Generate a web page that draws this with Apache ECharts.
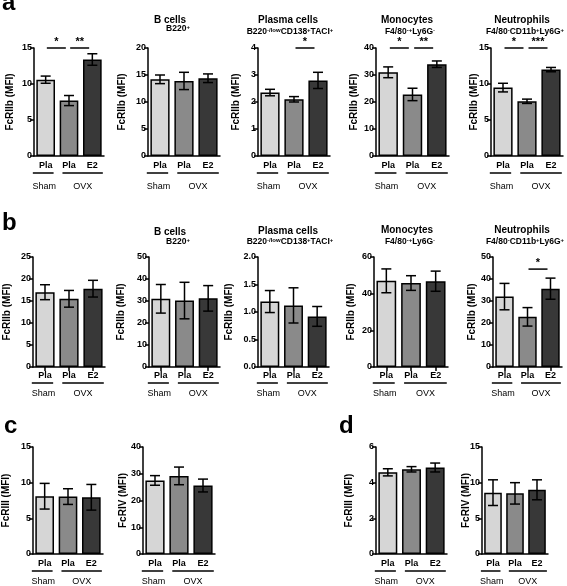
<!DOCTYPE html>
<html><head><meta charset="utf-8">
<script src="https://cdn.jsdelivr.net/npm/echarts@6/dist/echarts.min.js"></script>
<style>html,body{margin:0;padding:0;background:#fff}#c{width:567px;height:586px}</style>
</head><body><div id="c"></div>
<script>
// ---------- data ----------
const categories = ['Pla', 'Pla', 'E2'];
const groupLabels = ['Sham', 'OVX'];
const barFills = ['#d6d6d6', '#8a8a8a', '#383838'];

// row a
const aAllMean = [10.6, 7.7, 13.4],   aAllErr = [0.5, 0.7, 0.8];
const aBMean = [14.2, 13.9, 14.4],    aBErr = [0.8, 1.6, 0.8];
const aPlMean = [2.35, 2.1, 2.8],     aPlErr = [0.12, 0.1, 0.3];
const aMoMean = [31.0, 22.8, 34.0],   aMoErr = [2.0, 2.3, 1.2];
const aNeMean = [9.5, 7.6, 12.0],     aNeErr = [0.6, 0.3, 0.3];
// row b
const bAllMean = [17.0, 15.5, 17.8],  bAllErr = [1.7, 1.9, 1.9];
const bBMean = [31.0, 30.2, 31.2],    bBErr = [6.5, 8.3, 5.8];
const bPlMean = [1.19, 1.12, 0.92],   bPlErr = [0.2, 0.32, 0.18];
const bMoMean = [47.0, 45.8, 46.8],   bMoErr = [6.5, 4.0, 5.5];
const bNeMean = [32.0, 22.8, 35.6],   bNeErr = [6.0, 4.2, 4.8];
// row c
const cIIIMean = [8.1, 8.05, 7.95],   cIIIErr = [1.8, 1.1, 1.8];
const cIVMean = [27.5, 29.2, 25.6],   cIVErr = [1.8, 3.3, 2.4];
// row d
const dIIIMean = [4.58, 4.75, 4.85], dIIIErr = [0.2, 0.15, 0.25];
const dIVMean = [8.6, 8.5, 9.0],      dIVErr = [1.8, 1.5, 1.4];

// significance: [from, to, label, height value]
const aAllSig = [[0, 1, '*', 15], [1, 2, '**', 15]];
const aPlSig = [[1, 2, '*', 4]];
const aMoSig = [[0, 1, '*', 40], [1, 2, '**', 40]];
const aNeSig = [[0, 1, '*', 15], [1, 2, '***', 15]];
const bNeSig = [[1, 2, '*', 44.5]];

// ---------- layout ----------
const FONT = '"Liberation Sans", Arial, Helvetica, sans-serif';
const panels = [
  {l:34, t:48, w:70, h:108, max:15, iv:5, m:aAllMean, e:aAllErr, sig:aAllSig, yn:'FcRIIb (MFI)', ng:19, ticks:false, lm:5, ul:17, gl:31},
  {l:148, t:48, w:72, h:108, max:20, iv:5, m:aBMean, e:aBErr, sig:[], yn:'FcRIIb (MFI)', ng:21, ticks:false, lm:5, ul:17, gl:31},
  {l:258, t:48, w:72, h:108, max:4, iv:1, m:aPlMean, e:aPlErr, sig:aPlSig, yn:'FcRIIb (MFI)', ng:17, ticks:false, lm:5, ul:17, gl:31},
  {l:376, t:48, w:73, h:108, max:40, iv:10, m:aMoMean, e:aMoErr, sig:aMoSig, yn:'FcRIIb (MFI)', ng:17, ticks:false, lm:5, ul:17, gl:31},
  {l:491, t:48, w:72, h:108, max:15, iv:5, m:aNeMean, e:aNeErr, sig:aNeSig, yn:'FcRIIb (MFI)', ng:12, ticks:false, lm:5, ul:17, gl:31},

  {l:33, t:257, w:72, h:110, max:25, iv:5, m:bAllMean, e:bAllErr, sig:[], yn:'FcRIIb (MFI)', ng:21, ticks:true, lm:4, ul:16, gl:27},
  {l:149, t:257, w:71, h:110, max:50, iv:10, m:bBMean, e:bBErr, sig:[], yn:'FcRIIb (MFI)', ng:23, ticks:true, lm:4, ul:16, gl:27},
  {l:258, t:257, w:71, h:110, max:2, iv:0.5, m:bPlMean, e:bPlErr, sig:[], yn:'FcRIIb (MFI)', ng:24, ticks:true, lm:4, ul:16, gl:27, dec:1},
  {l:374, t:257, w:74, h:110, max:60, iv:20, m:bMoMean, e:bMoErr, sig:[], yn:'FcRIIb (MFI)', ng:18, ticks:true, lm:4, ul:16, gl:27},
  {l:493, t:257, w:69, h:110, max:50, iv:10, m:bNeMean, e:bNeErr, sig:bNeSig, yn:'FcRIIb (MFI)', ng:16, ticks:true, lm:4, ul:16, gl:27},

  {l:33, t:447, w:70, h:107, max:15, iv:5, m:cIIIMean, e:cIIIErr, sig:[], yn:'FcRIII (MFI)', ng:22, ticks:false, lm:5, ul:17, gl:28},
  {l:143, t:447, w:72, h:107, max:40, iv:10, m:cIVMean, e:cIVErr, sig:[], yn:'FcRIV (MFI)', ng:15, ticks:false, lm:5, ul:17, gl:28},
  {l:376, t:447, w:71, h:107, max:6, iv:2, m:dIIIMean, e:dIIIErr, sig:[], yn:'FcRIII (MFI)', ng:22, ticks:false, lm:5, ul:17, gl:28},
  {l:482, t:447, w:66, h:107, max:15, iv:5, m:dIVMean, e:dIVErr, sig:[], yn:'FcRIV (MFI)', ng:11, ticks:false, lm:5, ul:17, gl:28}
];

const titleList = [
  {x:170, y:14, main:'B cells', sub:'B220{sup|+}', sx:178, sy:24},
  {x:288, y:14, main:'Plasma cells', sub:'B220{sup|-/low}CD138{sup|+}TACI{sup|+}', sx:290, sy:27},
  {x:407, y:14, main:'Monocytes', sub:'F4/80{sup|-+}Ly6G{sup|-}', sx:410, sy:27},
  {x:522, y:14, main:'Neutrophils', sub:'F4/80{sup|-}CD11b{sup|+}Ly6G{sup|+}', sx:525, sy:27},
  {x:170, y:226, main:'B cells', sub:'B220{sup|+}', sx:178, sy:237},
  {x:288, y:225, main:'Plasma cells', sub:'B220{sup|-/low}CD138{sup|+}TACI{sup|+}', sx:290, sy:237},
  {x:407, y:224, main:'Monocytes', sub:'F4/80{sup|-+}Ly6G{sup|-}', sx:410, sy:237},
  {x:522, y:224, main:'Neutrophils', sub:'F4/80{sup|-}CD11b{sup|+}Ly6G{sup|+}', sx:525, sy:237}
];
const letters = [['a', 2, -9], ['b', 2, 211], ['c', 4, 414], ['d', 339, 414]];

const grids = [], xAxes = [], yAxes = [], series = [], graphics = [];
const LW = 1.5;

panels.forEach((p, i) => {
  grids.push({left: p.l, top: p.t, width: p.w, height: p.h, containLabel: false, outerBoundsMode: 'none'});
  xAxes.push({
    gridIndex: i, type: 'category', data: categories,
    axisLine: {lineStyle: {color: '#000', width: LW}},
    axisTick: {show: p.ticks, alignWithLabel: true, length: 4, lineStyle: {color: '#000', width: LW}},
    axisLabel: {color: '#000', fontSize: 9, fontWeight: 'bold', fontFamily: FONT, margin: p.lm, interval: 0}
  });
  yAxes.push({
    gridIndex: i, type: 'value', min: 0, max: p.max, interval: p.iv,
    name: p.yn, nameLocation: 'middle', nameRotate: 90, nameGap: p.ng, nameMoveOverlap: false,
    nameTextStyle: {color: '#000', fontSize: 10, fontWeight: 'bold', fontFamily: FONT},
    axisLine: {show: true, lineStyle: {color: '#000', width: LW}},
    axisTick: {show: true, length: 4, lineStyle: {color: '#000', width: LW}},
    splitLine: {show: false},
    axisLabel: {color: '#000', fontSize: 9, fontWeight: 'bold', fontFamily: FONT, margin: 2,
      formatter: v => p.dec ? v.toFixed(p.dec) : String(v)}
  });
  series.push({
    type: 'bar', xAxisIndex: i, yAxisIndex: i, barCategoryGap: '20%',
    data: p.m.map((v, k) => ({value: v, itemStyle: {color: barFills[k]}})),
    itemStyle: {borderColor: '#000', borderWidth: LW}, silent: true, animation: false, z: 2
  });
  series.push({
    type: 'custom', xAxisIndex: i, yAxisIndex: i, animation: false, z: 5, silent: true,
    data: p.m.map((v, k) => [k, v, p.e[k]]),
    renderItem: (params, api) => {
      const x = api.value(0), m = api.value(1), e = api.value(2);
      const a = api.coord([x, m + e]), b = api.coord([x, m - e]);
      const hw = 5, st = {stroke: '#000', lineWidth: LW};
      return {type: 'group', children: [
        {type: 'line', shape: {x1: a[0], y1: a[1], x2: b[0], y2: b[1]}, style: st},
        {type: 'line', shape: {x1: a[0] - hw, y1: a[1], x2: a[0] + hw, y2: a[1]}, style: st},
        {type: 'line', shape: {x1: b[0] - hw, y1: b[1], x2: b[0] + hw, y2: b[1]}, style: st}
      ]};
    }
  });
  if (p.sig.length) {
    series.push({
      type: 'custom', xAxisIndex: i, yAxisIndex: i, animation: false, z: 5, silent: true, clip: false,
      data: p.sig.map(s => [s[0], s[1], s[3]]),
      renderItem: (params, api) => {
        const s = p.sig[params.dataIndex];
        const c0 = api.coord([s[0], s[3]]), c1 = api.coord([s[1], s[3]]);
        const mid = (c0[0] + c1[0]) / 2 - 1, hl = 9.5, y = c0[1];
        return {type: 'group', children: [
          {type: 'line', shape: {x1: mid - hl, y1: y, x2: mid + hl, y2: y}, style: {stroke: '#000', lineWidth: LW}},
          {type: 'text', style: {text: s[2], x: mid, y: y - 1, align: 'center', verticalAlign: 'bottom',
            fill: '#000', font: 'bold 11px ' + FONT}}
        ]};
      }
    });
  }
  // group underlines & labels
  series.push({
    type: 'custom', xAxisIndex: i, yAxisIndex: i, animation: false, z: 5, silent: true, clip: false,
    data: [[0, 0]],
    renderItem: (params, api) => {
      const w = api.size([1, 0])[0];
      const c0 = api.coord([0, 0]), c1 = api.coord([1, 0]), c2 = api.coord([2, 0]);
      const y0 = c0[1];
      const l1a = c0[0] - 0.55 * w, l1b = c0[0] + 0.34 * w;
      const l2a = c1[0] - 0.28 * w, l2b = c2[0] + 0.45 * w;
      const st = {stroke: '#000', lineWidth: LW};
      return {type: 'group', children: [
        {type: 'line', shape: {x1: l1a, y1: y0 + p.ul, x2: l1b, y2: y0 + p.ul}, style: st},
        {type: 'line', shape: {x1: l2a, y1: y0 + p.ul, x2: l2b, y2: y0 + p.ul}, style: st},
        {type: 'text', style: {text: groupLabels[0], x: (l1a + l1b) / 2 + 1, y: y0 + p.gl, align: 'center', verticalAlign: 'middle', fill: '#000', font: '9px ' + FONT}},
        {type: 'text', style: {text: groupLabels[1], x: (l2a + l2b) / 2, y: y0 + p.gl, align: 'center', verticalAlign: 'middle', fill: '#000', font: '9px ' + FONT}}
      ]};
    }
  });
});

const titles = [];
titleList.forEach(t => {
  titles.push({text: t.main, left: t.x, top: t.y, textAlign: 'center', padding: 0,
    textStyle: {fontSize: 10, fontWeight: 'bold', fontFamily: FONT, color: '#000', lineHeight: 12}});
  titles.push({text: t.sub, left: t.sx, top: t.sy, textAlign: 'center', padding: 0,
    textStyle: {fontSize: 8.5, fontWeight: 'bold', fontFamily: FONT, color: '#000', lineHeight: 10,
      rich: {sup: {fontSize: 6, fontWeight: 'bold', fontFamily: FONT, color: '#000', lineHeight: 10, verticalAlign: 'top'}}}});
});
letters.forEach(L => {
  graphics.push({type: 'text', left: L[1], top: L[2], style: {text: L[0], fill: '#000', font: 'bold 24px ' + FONT}});
});

const chart = echarts.init(document.getElementById('c'), null, {renderer: 'canvas'});
chart.setOption({
  animation: false, backgroundColor: '#fff',
  title: titles, grid: grids, xAxis: xAxes, yAxis: yAxes, series: series, graphic: graphics
});
</script></body></html>
